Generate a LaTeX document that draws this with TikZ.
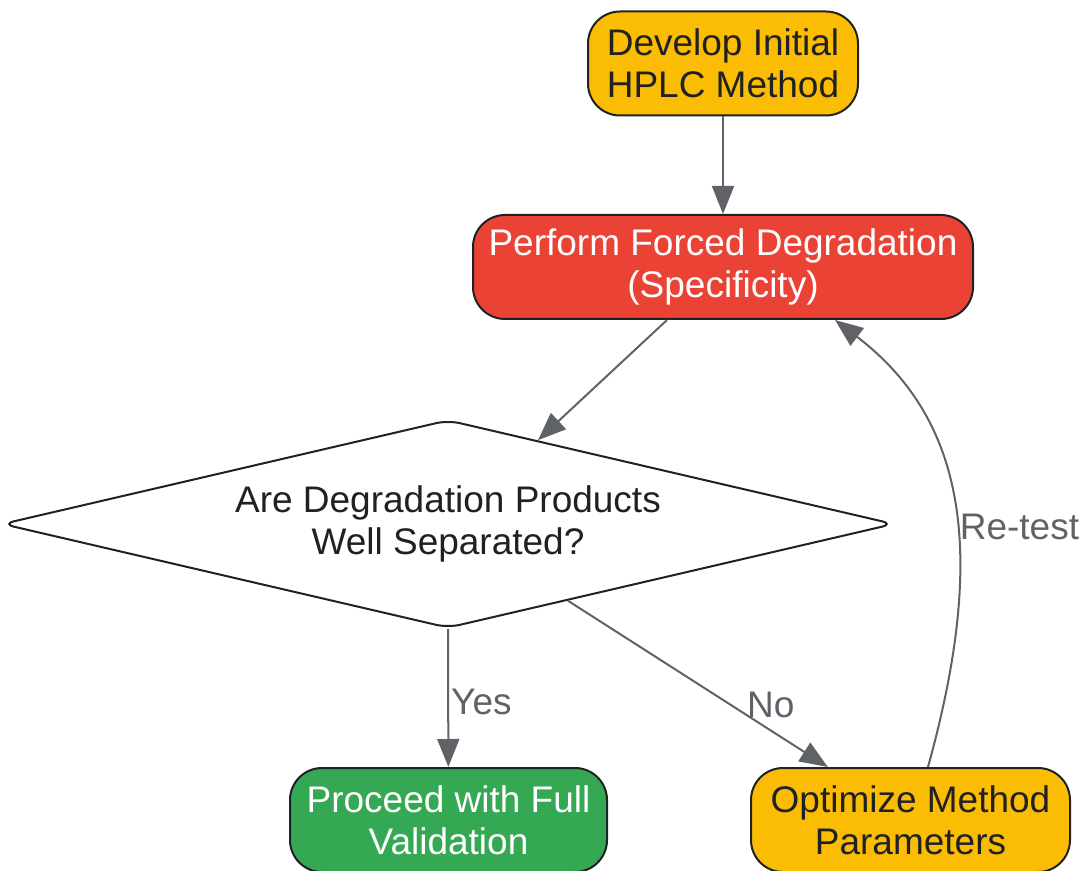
\documentclass[tikz,border=0pt]{standalone}
\usepackage{fontspec}
\setmainfont{Liberation Sans}
\usetikzlibrary{arrows.meta,shapes.geometric,positioning}

\definecolor{stepyellow}{HTML}{FBBC04}
\definecolor{stepred}{HTML}{EA4335}
\definecolor{stepgreen}{HTML}{34A853}
\definecolor{inkdark}{HTML}{202124}
\definecolor{linegrey}{HTML}{5F6368}

\tikzset{
  box/.style    = {draw=inkdark, line width=1pt, rounded corners=16pt, align=center,
                   minimum height=52pt, text=inkdark},
  choice/.style = {draw=inkdark, line width=1pt, diamond, aspect=4.3, rounded corners=6pt,
                   align=center, inner sep=0pt, minimum width=446pt, minimum height=104pt,
                   text=inkdark},
  link/.style   = {draw=linegrey, line width=1pt, -{Triangle[length=14pt,width=11pt]}},
  tag/.style    = {text=linegrey, inner sep=1pt}
}

\begin{document}
\begin{tikzpicture}[x=0.5pt, y=-0.5pt, font=\fontsize{18.5}{21}\selectfont]
      \useasboundingbox (0,0) rectangle (1082,871);

      \node[box, fill=stepyellow, minimum width=135pt] at (723, 63.5) (dev) {Develop Initial\\HPLC Method};
      \node[box, fill=stepred, text=white, minimum width=250pt] at (723, 267) (deg) {Perform Forced Degradation\\(Specificity)};
      \node[choice] at (448, 524) (sep) {Are Degradation Products\\Well Separated?};
      \node[box, fill=stepgreen, text=white, minimum width=158.5pt] at (448.5, 820) (val) {Proceed with Full\\Validation};
      \node[box, fill=stepyellow, minimum width=159.5pt] at (910.5, 820) (opt) {Optimize Method\\Parameters};

      \draw[link] (dev) -- (deg);
      \draw[link] ([xshift=-28pt]deg.south) -- (sep);
      \draw[link] (sep.south) -- node[tag, anchor=west, pos=0.53] {Yes} (val);
      \draw[link] (sep) -- node[tag, pos=0.78, above=5pt] {No} (opt);
      \draw[link] ([xshift=8.75pt]opt.north) .. controls +(57,-206) and +(135,103) .. node[tag, anchor=west, pos=0.45] {Re-test} ([xshift=56pt]deg.south);
    \end{tikzpicture}
\end{document}
